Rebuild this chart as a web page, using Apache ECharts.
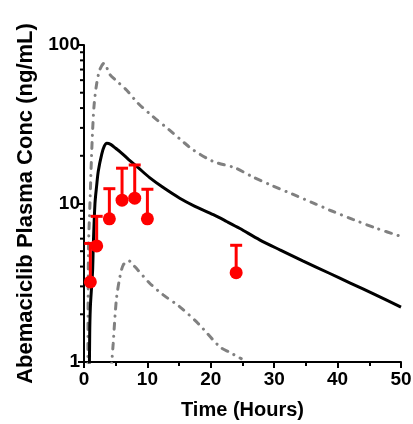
<!DOCTYPE html>
<html><head><meta charset="utf-8">
<script src="https://cdn.jsdelivr.net/npm/echarts@6/dist/echarts.min.js"></script>
<style>html,body{margin:0;padding:0;background:#fff}#c{width:413px;height:424px}</style>
</head><body><div id="c"></div>
<script>
// Observed data: time (h), mean conc, mean + SD
const obsTime = [1, 2, 4, 6, 8, 10, 24];
const obsMean = [3.2, 5.4, 8.0, 10.5, 10.8, 8.0, 3.66];
const obsUpper = [5.6, 8.3, 12.4, 16.7, 17.5, 12.3, 5.45];

// Model median
const medTime = [0.8, 0.9, 1.0, 1.2, 1.36, 1.47, 1.73, 2.0, 2.25, 2.8, 3.2, 3.6, 4.2, 5.0, 5.7, 7.0, 8.5, 10.4, 12.5, 15.1, 17.5, 20.4, 22.5, 24.6, 27.7, 30.9, 34.5, 38.7, 42, 46, 50];
const medConc = [0.5, 1.5, 2.2, 3.0, 3.8, 5.5, 10, 13, 16, 20.5, 23, 24, 23.6, 22.3, 21.2, 19.0, 16.9, 14.5, 12.6, 10.8, 9.6, 8.5, 7.7, 6.95, 5.9, 5.1, 4.35, 3.63, 3.15, 2.65, 2.22];

// Upper prediction bound
const hiTime = [0.6, 0.7, 0.94, 1.15, 1.36, 1.6, 2.0, 2.5, 3.15, 4.1, 5.0, 6.7, 8.5, 10.9, 13.5, 15.9, 17.2, 20.4, 23.8, 26.5, 29.8, 33, 36.1, 39, 42.4, 46, 50];
const hiConc = [0.5, 5, 10, 18, 29, 42, 57, 70, 76.7, 65, 60, 52, 43, 35.3, 29, 24, 21.8, 18.4, 16.8, 14.8, 12.9, 11.4, 10.1, 9.0, 7.94, 7.0, 6.2];

// Lower prediction bound
const loTime = [4.3, 4.6, 5.1, 5.67, 6.2, 7.0, 8.0, 10.4, 12.5, 15.1, 18, 21.4, 23, 24.8];
const loConc = [0.9, 1.3, 2.46, 3.45, 4.1, 4.36, 4.0, 3.13, 2.65, 2.23, 1.75, 1.25, 1.15, 1.05];

// Axis
const xTicks = [0, 10, 20, 30, 40, 50];
const yMinorTicks = [2, 3, 4, 5, 6, 7, 8, 9, 20, 30, 40, 50, 60, 70, 80, 90];

const zip = (a, b) => a.map((v, i) => [v, b[i]]);
const font = '"Liberation Sans", Arial, sans-serif';
const dashDot = [6, 7, 0.1, 7];

const chart = echarts.init(document.getElementById('c'), null, {renderer: 'canvas'});
chart.setOption({
  animation: false,
  backgroundColor: '#fff',
  grid: {left: 84, right: 12, top: 45, bottom: 62, containLabel: false, outerBoundsMode: 'none'},
  xAxis: {
    type: 'value', min: xTicks[0], max: xTicks[xTicks.length - 1], interval: 10,
    name: 'Time (Hours)', nameLocation: 'middle', nameGap: 38,
    nameTextStyle: {fontFamily: font, fontWeight: 'bold', fontSize: 20, color: '#000'},
    axisLine: {lineStyle: {color: '#000', width: 2}},
    axisTick: {length: 6, lineStyle: {color: '#000', width: 2}},
    minorTick: {show: true, splitNumber: 2, length: 4, lineStyle: {color: '#000', width: 2}},
    axisLabel: {fontFamily: font, fontWeight: 'bold', fontSize: 19, color: '#000', margin: 8},
    splitLine: {show: false}
  },
  yAxis: {
    type: 'log', logBase: 10, min: 1, max: 100,
    name: 'Abemaciclib Plasma Conc (ng/mL)', nameLocation: 'middle', nameGap: 46,
    nameTextStyle: {fontFamily: font, fontWeight: 'bold', fontSize: 22, color: '#000'},
    axisLine: {show: true, lineStyle: {color: '#000', width: 2}},
    axisTick: {show: true, length: 6, lineStyle: {color: '#000', width: 2}},
    axisLabel: {fontFamily: font, fontWeight: 'bold', fontSize: 19, color: '#000', margin: 4},
    splitLine: {show: false}
  },
  series: [
    {type: 'custom', silent: true, clip: false, z: 1,
     data: yMinorTicks.map(v => [0, v]),
     renderItem: (params, api) => {
       const p = api.coord([api.value(0), api.value(1)]);
       return {type: 'line', shape: {x1: p[0] - 4, y1: p[1], x2: p[0], y2: p[1]},
               style: {stroke: '#000', lineWidth: 2}};
     }},
    {type: 'line', data: zip(hiTime, hiConc), showSymbol: false, smooth: 0.3, z: 2,
     lineStyle: {color: '#808080', width: 3, type: dashDot, cap: 'round'}},
    {type: 'line', data: zip(loTime, loConc), showSymbol: false, smooth: 0.3, z: 2,
     lineStyle: {color: '#808080', width: 3, type: dashDot, cap: 'round'}},
    {type: 'line', data: zip(medTime, medConc), showSymbol: false, smooth: 0.3, z: 3,
     lineStyle: {color: '#000', width: 3}},
    {type: 'custom', clip: false, z: 4,
     data: obsTime.map((t, i) => [t, obsMean[i], obsUpper[i]]),
     renderItem: (params, api) => {
       const a = api.coord([api.value(0), api.value(1)]);
       const b = api.coord([api.value(0), api.value(2)]);
       return {type: 'group', children: [
         {type: 'line', shape: {x1: a[0], y1: a[1], x2: b[0], y2: b[1]}, style: {stroke: '#ff0000', lineWidth: 3}},
         {type: 'line', shape: {x1: b[0] - 6, y1: b[1], x2: b[0] + 6, y2: b[1]}, style: {stroke: '#ff0000', lineWidth: 3}}
       ]};
     }},
    {type: 'scatter', data: zip(obsTime, obsMean), symbol: 'circle', symbolSize: 13, z: 5,
     itemStyle: {color: '#ff0000', opacity: 1}}
  ]
});
</script></body></html>
